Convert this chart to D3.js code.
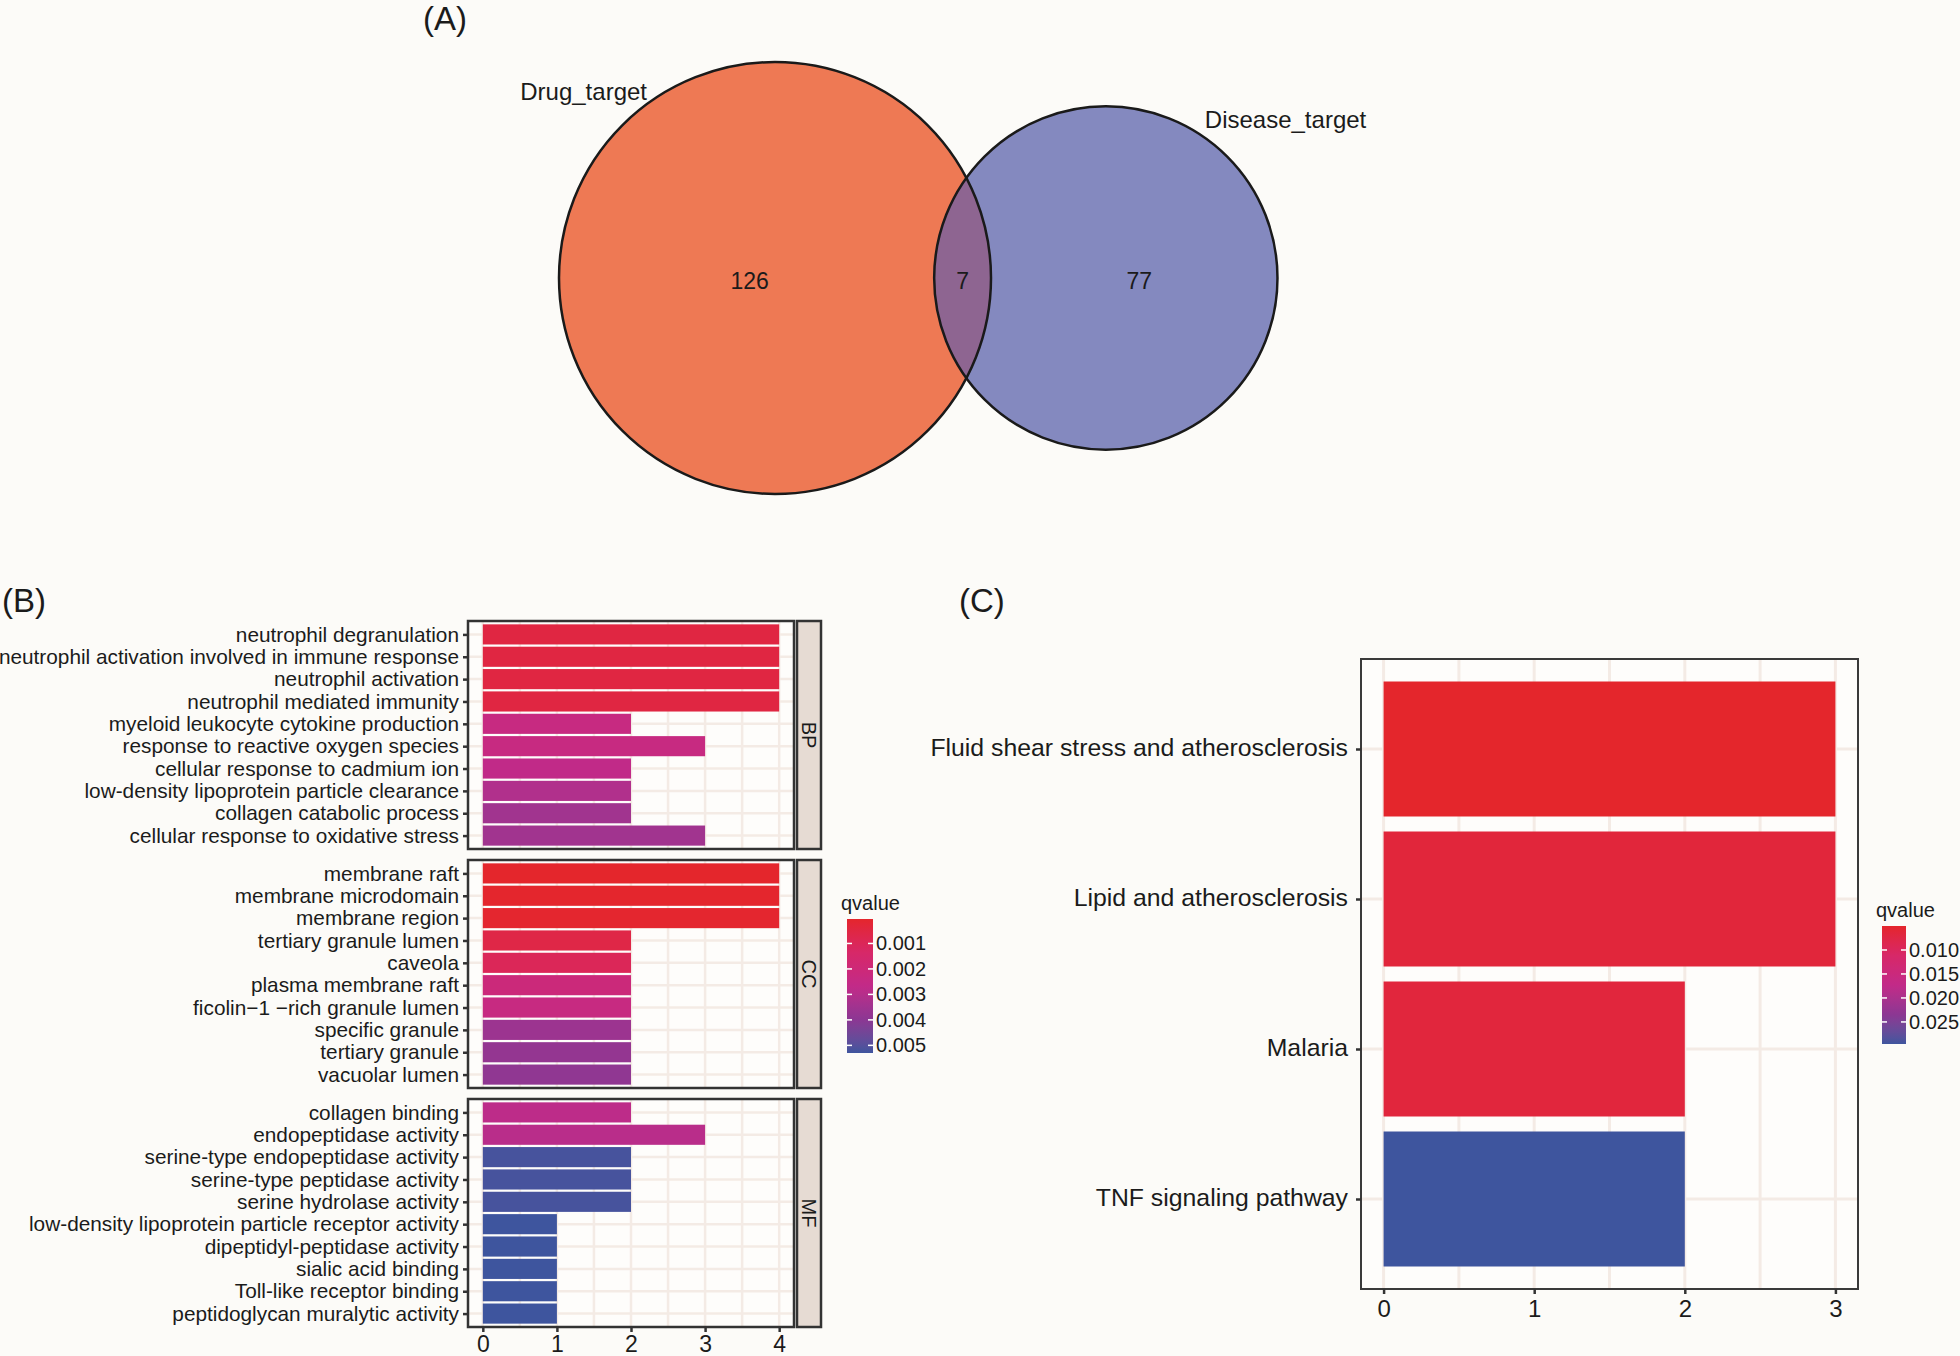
<!DOCTYPE html>
<html>
<head>
<meta charset="utf-8">
<script src="https://cdn.jsdelivr.net/npm/d3@7"></script>
<style>
body { margin:0; background:#fcfbf8; }
svg text { font-family: "Liberation Sans", Arial, Helvetica, sans-serif; fill:#1b1b1b; }
</style>
</head>
<body>
<div id="figure"></div>
<script>
// ---- data ----
var vennNames = ["Drug_target", "Disease_target"];
var vennOnly = [126, 77];
var vennShared = 7;

var goGroups = ["BP", "CC", "MF"];
var bpTerms = ["neutrophil degranulation", "neutrophil activation involved in immune response",
  "neutrophil activation", "neutrophil mediated immunity", "myeloid leukocyte cytokine production",
  "response to reactive oxygen species", "cellular response to cadmium ion",
  "low-density lipoprotein particle clearance", "collagen catabolic process",
  "cellular response to oxidative stress"];
var bpCounts = [4, 4, 4, 4, 2, 3, 2, 2, 2, 3];
var bpQvalues = [0.0005, 0.0005, 0.0005, 0.0005, 0.0024, 0.0024, 0.0027, 0.0031, 0.0035, 0.0035];

var ccTerms = ["membrane raft", "membrane microdomain", "membrane region", "tertiary granule lumen",
  "caveola", "plasma membrane raft", "ficolin\u22121 \u2212rich granule lumen", "specific granule",
  "tertiary granule", "vacuolar lumen"];
var ccCounts = [4, 4, 4, 2, 2, 2, 2, 2, 2, 2];
var ccQvalues = [0.00004, 0.00005, 0.0001, 0.0006, 0.0010, 0.0021, 0.0024, 0.0036, 0.0038, 0.0039];

var mfTerms = ["collagen binding", "endopeptidase activity", "serine-type endopeptidase activity",
  "serine-type peptidase activity", "serine hydrolase activity",
  "low-density lipoprotein particle receptor activity", "dipeptidyl-peptidase activity",
  "sialic acid binding", "Toll-like receptor binding", "peptidoglycan muralytic activity"];
var mfCounts = [2, 3, 2, 2, 2, 1, 1, 1, 1, 1];
var mfQvalues = [0.0028, 0.0029, 0.0052, 0.0052, 0.0052, 0.0053, 0.0053, 0.0053, 0.0053, 0.0053];

var goTicks = [0, 1, 2, 3, 4];
var goLegendBreaks = [0.001, 0.002, 0.003, 0.004, 0.005];

var keggTerms = ["Fluid shear stress and atherosclerosis", "Lipid and atherosclerosis",
  "Malaria", "TNF signaling pathway"];
var keggCounts = [3, 3, 2, 2];
var keggQvalues = [0.0050, 0.0064, 0.0066, 0.0296];
var keggTicks = [0, 1, 2, 3];
var keggLegendBreaks = [0.010, 0.015, 0.020, 0.025];

// red -> magenta -> blue, as printed
var fillStops = ["#e4262c", "#d72868", "#c22a88", "#8c3793", "#3e559e"];

var svg = d3.select("#figure").append("svg")
  .attr("width", 1960).attr("height", 1356)
  .style("background", "#fcfbf8");

var gridColor = "#f4ebe5";
var frameColor = "#333333";
var fontStack = "'Liberation Sans', Arial, sans-serif";

var makeFill = function(domain) {
  return d3.scaleSequential(d3.piecewise(d3.interpolateLab, fillStops)).domain(domain);
};

var panelLabel = function(txt, x, y) {
  svg.append("text").attr("x", x).attr("y", y)
    .style("font-size", "33px").text(txt);
};

// ---------- (A) venn ----------
var drawVenn = function() {
  var totals = [vennOnly[0] + vennShared, vennOnly[1] + vennShared];
  var rScale = d3.scaleSqrt().domain([0, totals[0]]).range([0, 216]);
  var r1 = rScale(totals[0]), r2 = rScale(totals[1]);
  var unitArea = Math.PI * r1 * r1 / totals[0];
  var target = vennShared * unitArea;

  var lensArea = function(d) {
    var a1 = r1 * r1 * Math.acos((d * d + r1 * r1 - r2 * r2) / (2 * d * r1));
    var a2 = r2 * r2 * Math.acos((d * d + r2 * r2 - r1 * r1) / (2 * d * r2));
    var a3 = 0.5 * Math.sqrt((-d + r1 + r2) * (d + r1 - r2) * (d - r1 + r2) * (d + r1 + r2));
    return a1 + a2 - a3;
  };
  // bisection for the centre distance
  var lo = Math.abs(r1 - r2) + 0.01, hi = r1 + r2 - 0.01;
  for (var i = 0; i < 60; i++) {
    var mid = (lo + hi) / 2;
    if (lensArea(mid) > target) lo = mid; else hi = mid;
  }
  var dist = (lo + hi) / 2;

  var cx1 = 775, cy = 278, cx2 = cx1 + dist;

  var defs = svg.select("defs");
  defs.append("clipPath").attr("id", "clipDrug")
    .append("circle").attr("cx", cx1).attr("cy", cy).attr("r", r1);

  var g = svg.append("g").attr("class", "venn");
  g.append("circle").attr("cx", cx1).attr("cy", cy).attr("r", r1).attr("fill", "#ee7954");
  g.append("circle").attr("cx", cx2).attr("cy", cy).attr("r", r2).attr("fill", "#8489bf");
  g.append("circle").attr("cx", cx2).attr("cy", cy).attr("r", r2)
    .attr("clip-path", "url(#clipDrug)").attr("fill", "#8e6591");
  g.selectAll(".ring")
    .data([[cx1, r1], [cx2, r2]])
    .enter().append("circle")
    .attr("class", "ring")
    .attr("cx", function(d) { return d[0]; }).attr("cy", cy)
    .attr("r", function(d) { return d[1]; })
    .attr("fill", "none").attr("stroke", "#1a1a1a").attr("stroke-width", 2.5);

  var countPos = [
    [(cx1 - r1 + cx2 - r2) / 2 + 3, vennOnly[0]],
    [(cx2 - r2 + cx1 + r1) / 2, vennShared],
    [(cx1 + r1 + cx2 + r2) / 2 + 5, vennOnly[1]]
  ];
  g.selectAll(".count")
    .data(countPos)
    .enter().append("text")
    .attr("class", "count")
    .attr("x", function(d) { return d[0]; })
    .attr("y", cy + 3)
    .attr("dominant-baseline", "central")
    .style("text-anchor", "middle")
    .style("font-size", "23px")
    .text(function(d) { return d[1]; });

  g.append("text").attr("x", cx1 - 128).attr("y", cy - r1 + 38)
    .style("text-anchor", "end").style("font-size", "24px").text(vennNames[0]);
  g.append("text").attr("x", cx2 + 99).attr("y", cy - r2 + 22)
    .style("font-size", "24px").text(vennNames[1]);
};

// ---------- shared colourbar ----------
var drawColorbar = function(id, fill, breaks, x, y, w, h, fontSize) {
  var grad = svg.select("defs").append("linearGradient").attr("id", id)
    .attr("x1", 0).attr("y1", 0).attr("x2", 0).attr("y2", 1);
  var dom = fill.domain();
  d3.range(0, 21).forEach(function(i) {
    var t = i / 20;
    grad.append("stop").attr("offset", t)
      .attr("stop-color", fill(dom[0] + t * (dom[1] - dom[0])));
  });
  var ly = d3.scaleLinear().domain(dom).range([y, y + h]);
  var g = svg.append("g");
  g.append("text").attr("x", x - 6).attr("y", y - 9)
    .style("font-size", fontSize + "px").text("qvalue");
  g.append("rect").attr("x", x).attr("y", y).attr("width", w).attr("height", h)
    .attr("fill", "url(#" + id + ")");
  breaks.forEach(function(b) {
    var yy = ly(b);
    g.append("line").attr("x1", x).attr("x2", x + 5).attr("y1", yy).attr("y2", yy)
      .attr("stroke", "#ffffff").attr("stroke-width", 1.5);
    g.append("line").attr("x1", x + w - 5).attr("x2", x + w).attr("y1", yy).attr("y2", yy)
      .attr("stroke", "#ffffff").attr("stroke-width", 1.5);
    g.append("text").attr("x", x + w + 3).attr("y", yy)
      .attr("dominant-baseline", "central")
      .style("font-size", fontSize + "px").text(d3.format(".3f")(b));
  });
};

var styleAxis = function(ax, size) {
  ax.select(".domain").remove();
  ax.selectAll(".tick line").attr("stroke", frameColor).attr("stroke-width", 2.5);
  ax.selectAll(".tick text").style("font-size", size + "px").attr("fill", "#1b1b1b")
    .style("font-family", fontStack);
};

// ---------- (B) GO barplot ----------
var drawGO = function() {
  var groups = [
    {name: goGroups[0], terms: bpTerms, counts: bpCounts, q: bpQvalues},
    {name: goGroups[1], terms: ccTerms, counts: ccCounts, q: ccQvalues},
    {name: goGroups[2], terms: mfTerms, counts: mfCounts, q: mfQvalues}
  ];
  var allQ = bpQvalues.concat(ccQvalues, mfQvalues);
  var fill = makeFill(d3.extent(allQ));

  var left = 468, right = 794, top = 621, ph = 228, gap = 11;
  var x = d3.scaleLinear().domain([-0.2, 4.2]).range([left, right]);

  groups.forEach(function(grp, gi) {
    var py = top + gi * (ph + gap);
    var y = d3.scalePoint().domain(grp.terms).range([py, py + ph]).padding(0.6);
    var bh = y.step() * 0.9;
    var g = svg.append("g");

    g.append("rect").attr("x", left).attr("y", py).attr("width", right - left).attr("height", ph)
      .attr("fill", "#fefdfb");
    // grid
    g.selectAll(".vg").data(d3.range(0, 4.01, 0.5)).enter().append("line")
      .attr("x1", function(d) { return x(d); }).attr("x2", function(d) { return x(d); })
      .attr("y1", py).attr("y2", py + ph)
      .attr("stroke", gridColor).attr("stroke-width", 2.5);
    g.selectAll(".hg").data(grp.terms).enter().append("line")
      .attr("x1", left).attr("x2", right)
      .attr("y1", function(d) { return y(d); }).attr("y2", function(d) { return y(d); })
      .attr("stroke", gridColor).attr("stroke-width", 2.5);

    g.selectAll(".bar").data(grp.terms).enter().append("rect")
      .attr("x", x(0))
      .attr("y", function(d) { return y(d) - bh / 2; })
      .attr("width", function(d, i) { return x(grp.counts[i]) - x(0); })
      .attr("height", bh)
      .attr("fill", function(d, i) { return fill(grp.q[i]); });

    g.append("rect").attr("x", left).attr("y", py).attr("width", right - left).attr("height", ph)
      .attr("fill", "none").attr("stroke", frameColor).attr("stroke-width", 2.5);

    // strip
    g.append("rect").attr("x", right + 3).attr("y", py).attr("width", 24).attr("height", ph)
      .attr("fill", "#e6dbd3").attr("stroke", frameColor).attr("stroke-width", 2.5);
    g.append("text")
      .attr("transform", "translate(" + (right + 15) + "," + (py + ph / 2) + ") rotate(90)")
      .attr("dominant-baseline", "central")
      .style("text-anchor", "middle").style("font-size", "20px").text(grp.name);

    var ax = g.append("g").attr("transform", "translate(" + left + ",0)")
      .call(d3.axisLeft(y).tickSize(5).tickPadding(4));
    styleAxis(ax, 20.8);

    if (gi === groups.length - 1) {
      var bx = g.append("g").attr("transform", "translate(0," + (py + ph) + ")")
        .call(d3.axisBottom(x).tickValues(goTicks).tickFormat(d3.format("d"))
          .tickSize(5).tickPadding(4));
      styleAxis(bx, 23);
    }
  });

  drawColorbar("goGrad", fill, goLegendBreaks, 847, 919, 26, 134, 20);
};

// ---------- (C) KEGG barplot ----------
var drawKEGG = function() {
  var fill = makeFill(d3.extent(keggQvalues));
  var left = 1361, right = 1858, top = 659, bottom = 1289;
  var x = d3.scaleLinear().domain([-0.15, 3.15]).range([left, right]);
  var y = d3.scalePoint().domain(keggTerms).range([top, bottom]).padding(0.6);
  var bh = y.step() * 0.9;
  var g = svg.append("g");

  g.append("rect").attr("x", left).attr("y", top).attr("width", right - left).attr("height", bottom - top)
    .attr("fill", "#fefdfb");
  g.selectAll(".vg").data(d3.range(0, 3.01, 0.5)).enter().append("line")
    .attr("x1", function(d) { return x(d); }).attr("x2", function(d) { return x(d); })
    .attr("y1", top).attr("y2", bottom)
    .attr("stroke", gridColor).attr("stroke-width", 3);
  g.selectAll(".hg").data(keggTerms).enter().append("line")
    .attr("x1", left).attr("x2", right)
    .attr("y1", function(d) { return y(d); }).attr("y2", function(d) { return y(d); })
    .attr("stroke", gridColor).attr("stroke-width", 3);

  g.selectAll(".bar").data(keggTerms).enter().append("rect")
    .attr("x", x(0))
    .attr("y", function(d) { return y(d) - bh / 2; })
    .attr("width", function(d, i) { return x(keggCounts[i]) - x(0); })
    .attr("height", bh)
    .attr("fill", function(d, i) { return fill(keggQvalues[i]); });

  g.append("rect").attr("x", left).attr("y", top).attr("width", right - left).attr("height", bottom - top)
    .attr("fill", "none").attr("stroke", "#3a3a3a").attr("stroke-width", 2);

  var ax = g.append("g").attr("transform", "translate(" + left + ",0)")
    .call(d3.axisLeft(y).tickSize(5).tickPadding(8));
  styleAxis(ax, 24.8);
  ax.selectAll(".tick text").attr("dy", "0.28em");

  var bx = g.append("g").attr("transform", "translate(0," + bottom + ")")
    .call(d3.axisBottom(x).tickValues(keggTicks).tickFormat(d3.format("d"))
      .tickSize(5).tickPadding(6));
  styleAxis(bx, 24);

  drawColorbar("keggGrad", fill, keggLegendBreaks, 1882, 926, 24, 118, 20);
};

svg.append("defs");
drawVenn();
drawGO();
drawKEGG();
panelLabel("(A)", 423, 30);
panelLabel("(B)", 2, 612);
panelLabel("(C)", 959, 612);
</script>
</body>
</html>
